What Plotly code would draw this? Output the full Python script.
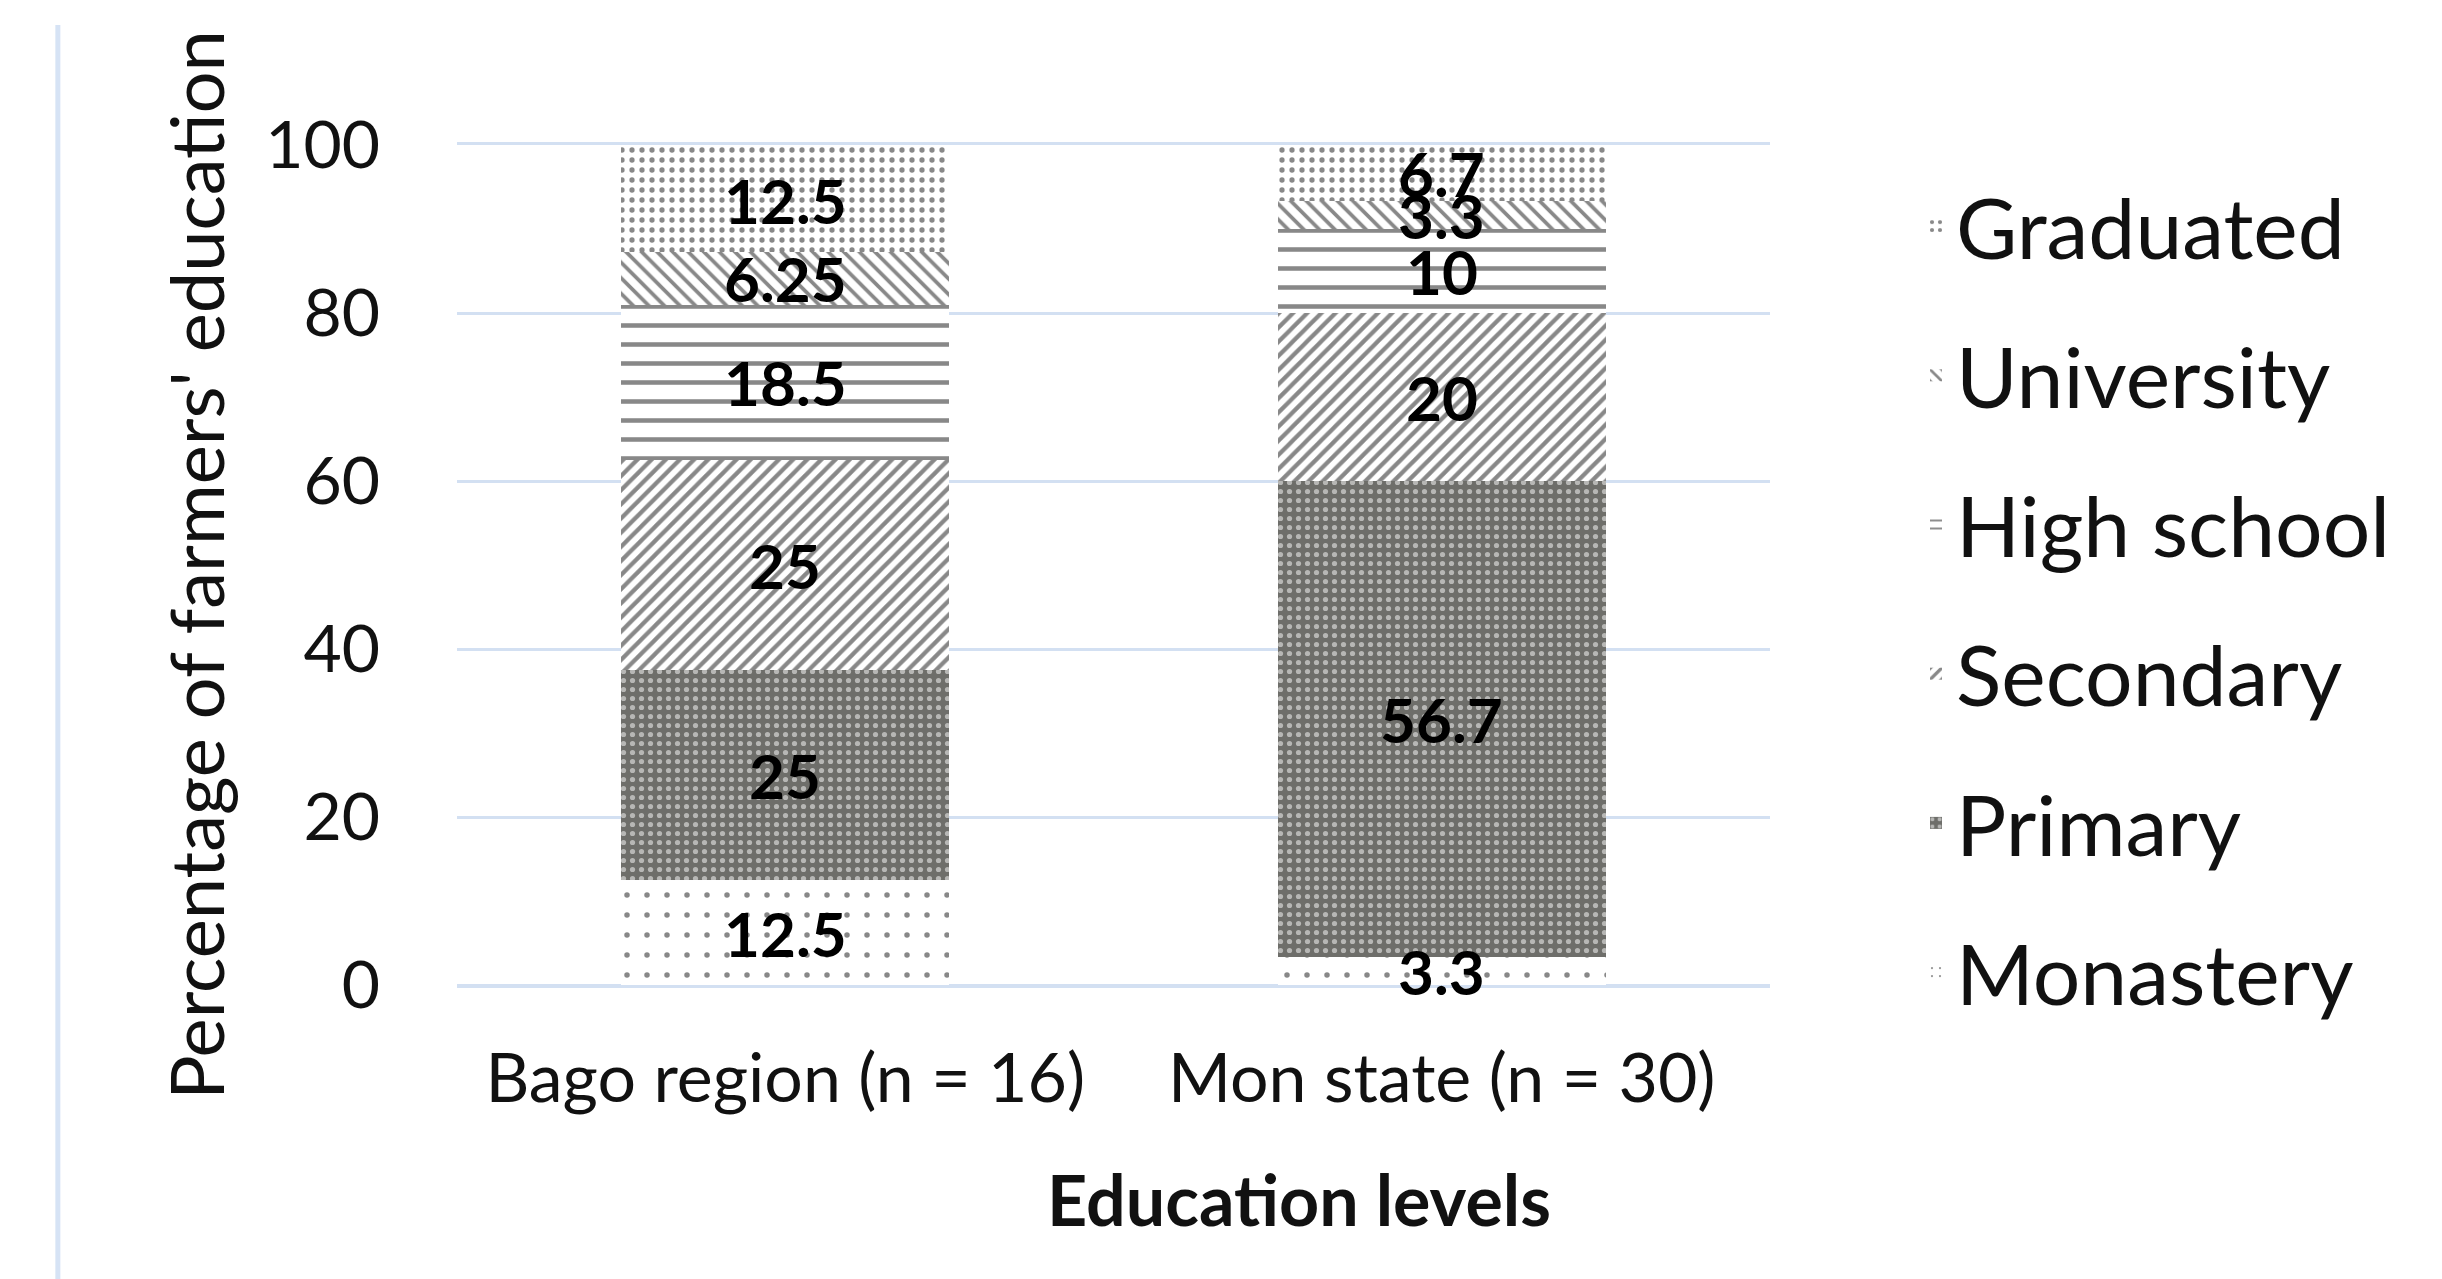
import plotly.graph_objects as go

# Regions surveyed
regions = ["Bago region (n = 16)", "Mon state (n = 30)"]

# Share of farmers (%) at each education level, bottom of the stack first
monastery = [12.5, 3.3]
primary = [25, 56.7]
secondary = [25, 20]
high_school = [18.5, 10]
university = [6.25, 3.3]
graduated = [12.5, 6.7]

levels = ["Monastery", "Primary", "Secondary", "High school", "University", "Graduated"]
values = [monastery, primary, secondary, high_school, university, graduated]

# Black-and-white hatch fill for each level
patterns = {
    "Monastery": dict(shape=".", size=20, solidity=0.06, fgcolor="#111111", bgcolor="#ffffff"),
    "Primary": dict(shape=".", size=9, solidity=0.26, fgcolor="#ffffff", bgcolor="#6e6e6a"),
    "Secondary": dict(shape="/", size=10, solidity=0.42, fgcolor="#111111", bgcolor="#ffffff"),
    "High school": dict(shape="-", size=19, solidity=0.24, fgcolor="#111111", bgcolor="#ffffff"),
    "University": dict(shape="\\", size=11, solidity=0.34, fgcolor="#111111", bgcolor="#ffffff"),
    "Graduated": dict(shape=".", size=10, solidity=0.22, fgcolor="#111111", bgcolor="#ffffff"),
}

FONT = "Lato"
GRID = "#d3e0f2"
LABEL_FONT = dict(family=FONT, size=62, color="#000000", weight="bold")

fig = go.Figure()
n = len(levels)
for i, (name, vals) in enumerate(zip(levels, values)):
    fig.add_trace(go.Bar(
        name=name,
        x=regions,
        y=vals,
        marker=dict(color="#ffffff", line=dict(width=0), pattern=patterns[name]),
        legendgroup=name,
        legendrank=n - i,
    ))

# Value labels centred in each stacked segment, drawn above all bars
labels = []
for j, region in enumerate(regions):
    base = 0.0
    for vals in values:
        v = vals[j]
        labels.append(dict(
            x=region, y=base + v / 2, xref="x", yref="y",
            text=f"{v:g}", showarrow=False,
            xanchor="center", yanchor="middle",
            font=LABEL_FONT,
        ))
        base += v

fig.update_layout(
    width=2442,
    height=1279,
    autosize=False,
    barmode="stack",
    bargap=0.5,
    margin=dict(l=457, r=672, t=145, b=294),
    paper_bgcolor="#ffffff",
    plot_bgcolor="#ffffff",
    font=dict(family=FONT, color="#111111"),
    showlegend=True,
    legend=dict(
        traceorder="grouped",
        tracegroupgap=37,
        maxheight=1100,
        font=dict(family=FONT, size=84, color="#111111"),
        xref="container", yref="container",
        x=1916 / 2442, y=1 - 165 / 1279,
        xanchor="left", yanchor="top",
        bgcolor="rgba(0,0,0,0)",
    ),
    xaxis=dict(
        showgrid=False,
        showline=True,
        mirror=True,
        linecolor=GRID,
        linewidth=3,
        ticks="",
        tickfont=dict(family=FONT, size=68, color="#111111"),
        ticklabelstandoff=32,
    ),
    yaxis=dict(
        range=[0, 100],
        tickvals=[0, 20, 40, 60, 80, 100],
        showgrid=True,
        gridcolor=GRID,
        gridwidth=3,
        zeroline=True,
        zerolinecolor=GRID,
        zerolinewidth=3,
        showline=False,
        ticks="",
        tickfont=dict(family=FONT, size=66, color="#111111"),
        ticklabelstandoff=76,
        title=dict(
            text="Percentage of farmers' education",
            font=dict(family=FONT, size=74, color="#111111"),
            standoff=16,
        ),
    ),
    annotations=labels + [dict(
        text="<b>Education levels</b>",
        xref="paper", yref="paper",
        x=0.641, y=-0.2548,
        xanchor="center", yanchor="middle",
        showarrow=False,
        font=dict(family=FONT, size=70, color="#111111"),
    )],
    shapes=[dict(
        type="line",
        xref="paper", yref="paper",
        x0=-0.304, x1=-0.304, y0=-0.35, y1=1.143,
        line=dict(color="#d6e3f5", width=5),
        layer="below",
    )],
)

fig.write_html("out.html")
